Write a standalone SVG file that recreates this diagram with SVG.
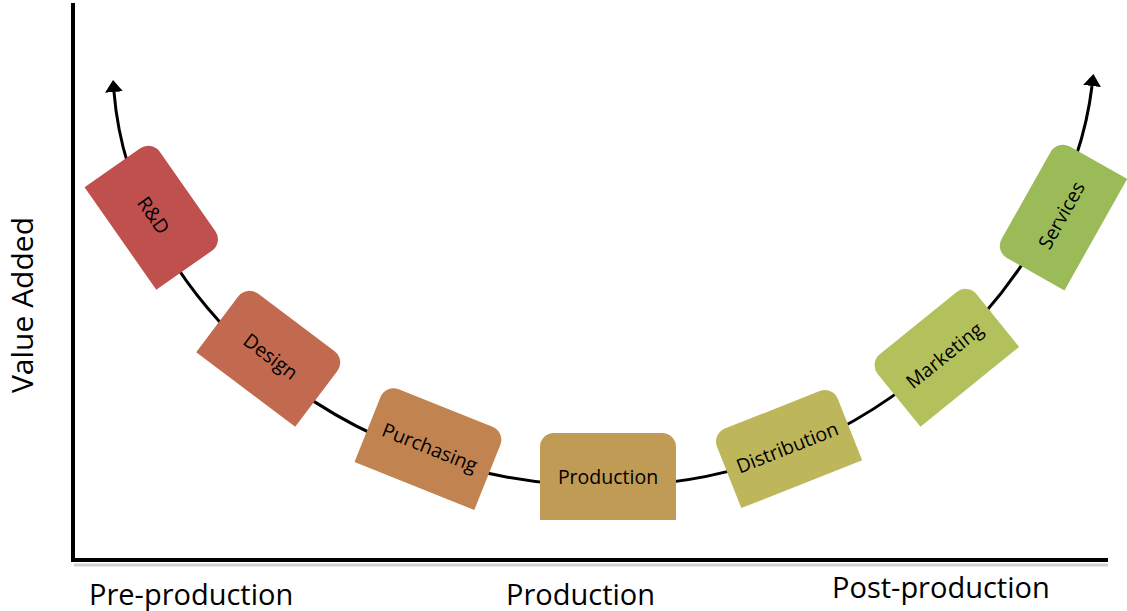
<svg xmlns="http://www.w3.org/2000/svg" width="1127" height="611" viewBox="0 0 1127 611">
  <style>
    .axis { stroke: #000; stroke-width: 4; fill: none; }
    .axis-shadow { stroke: #bdbdbd; stroke-width: 3; fill: none; opacity: 0.7; }
    .curve { stroke: #000; stroke-width: 3; fill: none; }
    .lbl { font-family: "Open Sans", "Liberation Sans", sans-serif; fill: #000; }
    .axis-lbl { font-size: 29px; }
    .node-lbl { font-size: 19.5px; text-anchor: middle; dominant-baseline: central; }
  </style>
  <defs>
    <marker id="arrow" viewBox="0 0 12 18" markerWidth="12" markerHeight="18" refX="0" refY="9" orient="auto-start-reverse" markerUnits="userSpaceOnUse">
      <path d="M0,0 L12,9 L0,18 Z" fill="#000"/>
    </marker>
  </defs>
  <rect width="1127" height="611" fill="#fff"/>

  <!-- axes -->
  <g id="axes">
    <path class="axis-shadow" d="M74,565 H1108"/>
    <path class="axis" d="M73,3 V560 H1108"/>
  </g>

  <!-- value curve -->
  <g id="connectors">
    <path class="curve" d="M114,92 C130,290 330,486 608,486 C880,486 1070,270 1092,86" marker-start="url(#arrow)" marker-end="url(#arrow)"/>
  </g>

  <!-- stages: rectangles with rounded top corners, rotated along the curve -->
  <g id="rnd" transform="translate(154,215) rotate(55)">
    <path d="M-62.5,41 V-27 A14,14 0 0 1 -48.5,-41 H48.5 A14,14 0 0 1 62.5,-27 V41 Z" fill="#C0504D"/>
    <text class="lbl node-lbl" x="0" y="0">R&amp;D</text>
  </g>
  <g id="design" transform="translate(271,356) rotate(37)">
    <path d="M-62,42 V-28 A14,14 0 0 1 -48,-42 H48 A14,14 0 0 1 62,-28 V42 Z" fill="#C26A4F"/>
    <text class="lbl node-lbl" x="0" y="0">Design</text>
  </g>
  <g id="purchasing" transform="translate(430,447) rotate(21.8)">
    <path d="M-64.5,42 V-28 A14,14 0 0 1 -50.5,-42 H50.5 A14,14 0 0 1 64.5,-28 V42 Z" fill="#C18350"/>
    <text class="lbl node-lbl" x="0" y="0">Purchasing</text>
  </g>
  <g id="production" transform="translate(608,476.5)">
    <path d="M-68,43.5 V-29.5 A14,14 0 0 1 -54,-43.5 H54 A14,14 0 0 1 68,-29.5 V43.5 Z" fill="#BF9B55"/>
    <text class="lbl node-lbl" x="0" y="0">Production</text>
  </g>
  <g id="distribution" transform="translate(787,447) rotate(-21.6)">
    <path d="M-65,40 V-26 A14,14 0 0 1 -51,-40 H51 A14,14 0 0 1 65,-26 V40 Z" fill="#BEB65A"/>
    <text class="lbl node-lbl" x="0" y="0">Distribution</text>
  </g>
  <g id="marketing" transform="translate(944,355) rotate(-39)">
    <path d="M-63.5,41 V-27 A14,14 0 0 1 -49.5,-41 H49.5 A14,14 0 0 1 63.5,-27 V41 Z" fill="#B3C15C"/>
    <text class="lbl node-lbl" x="0" y="0">Marketing</text>
  </g>
  <g id="services" transform="translate(1061,215) rotate(-60.6)">
    <path d="M-64,40 V-26 A14,14 0 0 1 -50,-40 H50 A14,14 0 0 1 64,-26 V40 Z" fill="#9BBB59"/>
    <text class="lbl node-lbl" x="0" y="0">Services</text>
  </g>

  <!-- axis labels -->
  <g id="labels">
    <text class="lbl" font-size="30" text-anchor="middle" transform="translate(33,305) rotate(-90)">Value Added</text>
    <text class="lbl axis-lbl" x="89" y="605">Pre-production</text>
    <text class="lbl axis-lbl" x="506" y="605">Production</text>
    <text class="lbl axis-lbl" x="832" y="598">Post-production</text>
  </g>
</svg>
